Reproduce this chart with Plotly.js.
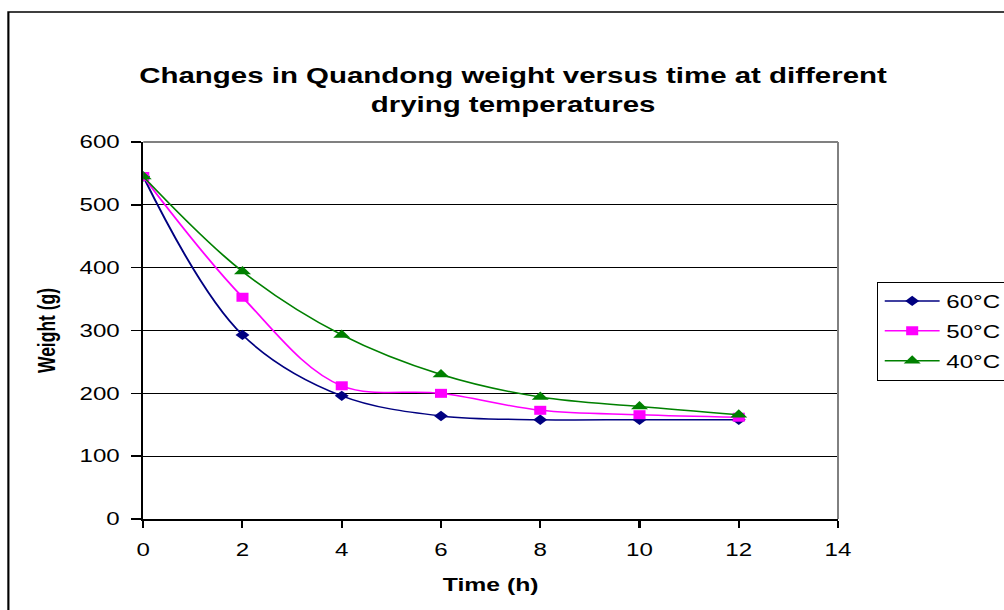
<!DOCTYPE html>
<html>
<head>
<meta charset="utf-8">
<script src="https://cdn.plot.ly/plotly-3.0.1.min.js"></script>
<style>
  html, body { margin: 0; padding: 0; background: #fff; overflow: hidden; }
  #chart { width: 750px; height: 610px; transform: scaleX(1.33867); transform-origin: 0 0; }
</style>
</head>
<body>
<div id="chart"></div>
<script>
// Data
const timeHours = [0, 2, 4, 6, 8, 10, 12];
const weight60 = [545, 293, 196, 164, 158, 158, 158];
const weight50 = [545, 353, 212, 200, 173, 166, 162];
const weight40 = [545, 394, 293, 230, 194, 179, 166];
const seriesNames = ['60°C', '50°C', '40°C'];
const xTicks = [0, 2, 4, 6, 8, 10, 12, 14];
const yTicks = [0, 100, 200, 300, 400, 500, 600];

const FONT = 'Liberation Sans, Arial, Helvetica, sans-serif';

const traces = [
  {
    x: timeHours, y: weight60, name: seriesNames[0], legendgroup: 'a',
    mode: 'lines+markers',
    line: { color: '#000080', width: 1.5, shape: 'spline', smoothing: 1 },
    marker: { symbol: 'diamond', size: 8, color: '#000080' }
  },
  {
    x: timeHours, y: weight50, name: seriesNames[1], legendgroup: 'b',
    mode: 'lines+markers',
    line: { color: '#FF00FF', width: 1.5, shape: 'spline', smoothing: 1 },
    marker: { symbol: 'square', size: 9, color: '#FF00FF' }
  },
  {
    x: timeHours, y: weight40, name: seriesNames[2], legendgroup: 'c',
    mode: 'lines+markers',
    line: { color: '#008000', width: 1.5, shape: 'spline', smoothing: 1 },
    marker: { symbol: 'triangle-up', size: 11, color: '#008000' }
  }
];

const layout = {
  width: 750,
  height: 610,
  margin: { l: 106.8, r: 124, t: 142, b: 91, pad: 0, autoexpand: false },
  paper_bgcolor: '#ffffff',
  plot_bgcolor: '#ffffff',
  font: { family: FONT, color: '#000000', size: 18 },
  showlegend: true,
  title: {
    text: '<b>Changes in Quandong weight versus time at different<br>drying temperatures</b>',
    font: { family: FONT, size: 22, color: '#000000' },
    x: 0.511, xanchor: 'center', xref: 'container',
    y: 0.864, yanchor: 'top', yref: 'container'
  },
  xaxis: {
    range: [0, 14],
    tickvals: xTicks,
    ticktext: xTicks.map(String),
    ticks: 'outside', ticklen: 7, tickwidth: 1.5, tickcolor: '#000',
    showline: true, linecolor: '#000', linewidth: 2,
    showgrid: false, zeroline: false,
    tickfont: { family: FONT, size: 18, color: '#000' },
    ticklabelstandoff: 6,
    title: { text: '<b>Time (h)</b>', font: { family: FONT, size: 18.5, color: '#000' }, standoff: 19 },
    automargin: false
  },
  yaxis: {
    range: [0, 600],
    tickvals: yTicks,
    ticktext: yTicks.map(String),
    ticks: 'outside', ticklen: 7.5, tickwidth: 1.5, tickcolor: '#000',
    showline: true, linecolor: '#000', linewidth: 1.5,
    showgrid: true, gridcolor: '#000', gridwidth: 1.2,
    zeroline: false,
    tickfont: { family: FONT, size: 18, color: '#000' },
    ticklabelstandoff: 5,
    title: { text: '<b>Weight (g)</b>', font: { family: FONT, size: 17.5, color: '#000' }, standoff: 13 },
    automargin: false
  },
  legend: {
    x: 1.0557, xanchor: 'left', xref: 'paper',
    y: 0.6294, yanchor: 'top', yref: 'paper',
    bgcolor: '#ffffff', bordercolor: '#000', borderwidth: 1,
    font: { family: FONT, size: 18, color: '#000' },
    traceorder: 'grouped', tracegroupgap: 3.5,
    itemwidth: 41
  },
  shapes: [
    // outer chart frame
    { type: 'rect', xref: 'paper', yref: 'paper', x0: -0.1941, x1: 1.6, y0: -0.6, y1: 1.3448,
      line: { color: '#000', width: 1.6 }, fillcolor: 'rgba(0,0,0,0)', layer: 'below' },
    // gray top and right plot-area borders
    { type: 'line', xref: 'paper', yref: 'paper', x0: 0, x1: 1, y0: 1, y1: 1,
      line: { color: '#808080', width: 2 }, layer: 'above' },
    { type: 'line', xref: 'paper', yref: 'paper', x0: 1, x1: 1, y0: 0, y1: 1,
      line: { color: '#808080', width: 1.5 }, layer: 'above' }
  ]
};

Plotly.newPlot('chart', traces, layout, { staticPlot: true, displayModeBar: false });
</script>
</body>
</html>
